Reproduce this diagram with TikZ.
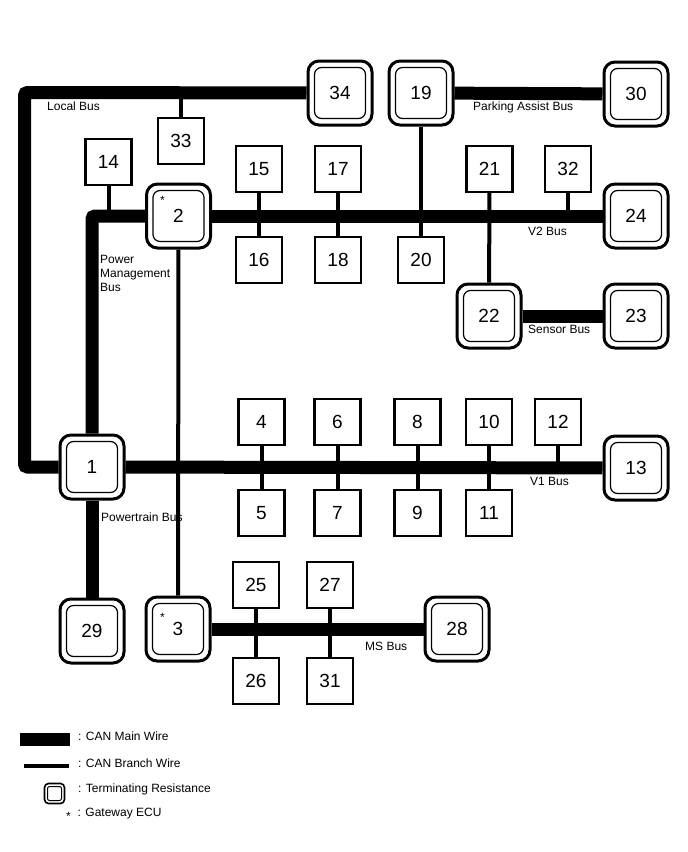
\documentclass[tikz,border=0pt]{standalone}
\usepackage{fontspec}
\setmainfont{Liberation Sans}
\tikzset{
  ecubox/.style={draw,line width=2.3pt,minimum size=46pt,inner sep=0pt,font=\fontsize{19}{19}\selectfont},
  innerframe/.style={draw,line width=1.2pt,rounded corners=7pt,minimum size=51pt,inner sep=0pt},
  termbox/.style={draw,line width=3pt,rounded corners=11pt,minimum size=64pt,inner sep=0pt,font=\fontsize{19}{19}\selectfont,
    label={[innerframe]center:}},
  mainwire/.style={line width=13pt,rounded corners=3pt},
  branchwire/.style={line width=4pt},
  buslabel/.style={anchor=west,inner sep=0pt,align=left,font=\fontsize{12}{14}\selectfont},
}
\begin{document}
\begin{tikzpicture}[x=1pt,y=-1pt]
  \useasboundingbox (0,0) rectangle (688,852);
  % 終端あり
  \node[termbox] (n1) at (92,467) {1};
  \node[termbox] (n2) at (178.5,216) {2};
  \node[termbox] (n3) at (178,629) {3};
  \node[termbox] (n13) at (636,468) {13};
  \node[termbox] (n19) at (421,93) {19};
  \node[termbox] (n22) at (489,316) {22};
  \node[termbox] (n23) at (636,316) {23};
  \node[termbox] (n24) at (636,216) {24};
  \node[termbox] (n28) at (457,629) {28};
  \node[termbox] (n29) at (92,631) {29};
  \node[termbox] (n30) at (636,94) {30};
  \node[termbox] (n34) at (340,93) {34};
  % 通常のECU
  \node[ecubox] (n4) at (261.5,422) {4};
  \node[ecubox] (n5) at (261.5,513) {5};
  \node[ecubox] (n6) at (337.5,422) {6};
  \node[ecubox] (n7) at (337.5,513) {7};
  \node[ecubox] (n8) at (417.5,422) {8};
  \node[ecubox] (n9) at (417.5,513) {9};
  \node[ecubox] (n10) at (489,422) {10};
  \node[ecubox] (n11) at (489,513) {11};
  \node[ecubox] (n12) at (558,422) {12};
  \node[ecubox] (n14) at (108.5,162) {14};
  \node[ecubox] (n15) at (259,169) {15};
  \node[ecubox] (n16) at (259,260) {16};
  \node[ecubox] (n17) at (338,169) {17};
  \node[ecubox] (n18) at (338,260) {18};
  \node[ecubox] (n20) at (421,260) {20};
  \node[ecubox] (n21) at (489.5,169) {21};
  \node[ecubox] (n25) at (256,585) {25};
  \node[ecubox] (n26) at (256,681) {26};
  \node[ecubox] (n27) at (330,585) {27};
  \node[ecubox] (n31) at (330,681) {31};
  \node[ecubox] (n32) at (568,169) {32};
  \node[ecubox] (n33) at (181,141) {33};
  % メイン配線
  \coordinate (cLocal) at (24.5,92.5);
  \draw[mainwire] (n1) -| (cLocal) -- (n34);
  \draw[mainwire] (n1) |- (n2);
  \draw[mainwire] (n1) -- (n29);
  \draw[mainwire] (n1) -- (n13);
  \draw[mainwire] (n2) -- (n24);
  \draw[mainwire] (n3) -- (n28);
  \draw[mainwire] (n19) -- (n30);
  \draw[mainwire] (n22) -- (n23);
  % 分岐配線
  \draw[branchwire] (n33) -- (n33 |- n34);
  \draw[branchwire] (n14) -- (n14 |- n2);
  \draw[branchwire] (n2) -- (n3);
  \draw[branchwire] (n15) -- (n16);
  \draw[branchwire] (n17) -- (n18);
  \draw[branchwire] (n19) -- (n20);
  \draw[branchwire] (n21) -- (n22);
  \draw[branchwire] (n32) -- (n32 |- n24);
  \draw[branchwire] (n4) -- (n5);
  \draw[branchwire] (n6) -- (n7);
  \draw[branchwire] (n8) -- (n9);
  \draw[branchwire] (n10) -- (n11);
  \draw[branchwire] (n12) -- (n12 |- n13);
  \draw[branchwire] (n25) -- (n26);
  \draw[branchwire] (n27) -- (n31);
  % バス名
  \node[buslabel] (lLocal) at (47,106) {Local Bus};
  \node[buslabel] (lPark) at (473,107) {Parking Assist Bus};
  \node[buslabel] (lV2) at (528,231) {V2 Bus};
  \node[buslabel] (lPower) at (100,273) {Power\\Management\\Bus};
  \node[buslabel] (lSensor) at (528,329) {Sensor Bus};
  \node[buslabel] (lV1) at (530,481) {V1 Bus};
  \node[buslabel] (lTrain) at (101,517) {Powertrain Bus};
  \node[buslabel] (lMS) at (365,646) {MS Bus};
  \node[buslabel] (sGate2) at (160,200.5) {*};
  \node[buslabel] (sGate3) at (160,617.5) {*};
  % 凡例
  \coordinate (kMainA) at (20,739.5);
  \coordinate (kMainB) at (70,739.5);
  \coordinate (kBranchA) at (24,766);
  \coordinate (kBranchB) at (69,766);
  \draw[line width=13pt] (kMainA) -- (kMainB);
  \draw[branchwire] (kBranchA) -- (kBranchB);
  \node[draw,line width=1.6pt,rounded corners=4pt,minimum size=20pt,inner sep=0pt,
    label={[draw,line width=1pt,rounded corners=2pt,minimum size=14pt,inner sep=0pt]center:}] (kTerm) at (54.5,793.5) {};
  \node[buslabel] (kStar) at (66,816.5) {*};
  \node[buslabel] (tMain) at (78,736) {: CAN Main Wire};
  \node[buslabel] (tBranch) at (78,763) {: CAN Branch Wire};
  \node[buslabel] (tTerm) at (78,789) {: Terminating Resistance};
  \node[buslabel] (tGate) at (77.5,814) {: Gateway ECU};
\end{tikzpicture}
\end{document}
